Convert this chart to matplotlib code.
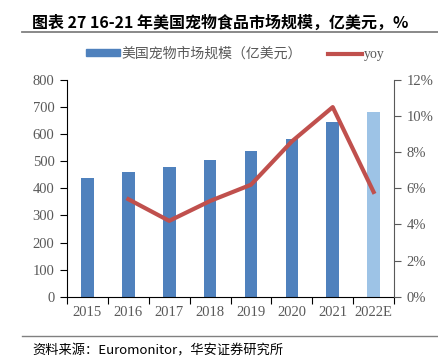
import matplotlib
matplotlib.use("Agg")
import matplotlib.pyplot as plt
from matplotlib.lines import Line2D
from matplotlib.patches import Patch

plt.rcParams['font.family'] = ['Liberation Serif', 'Noto Sans CJK SC', 'DejaVu Sans']

years = ['2015', '2016', '2017', '2018', '2019', '2020', '2021', '2022E']
market = [437, 459, 479, 505, 537, 581, 644, 681]
yoy = [None, 5.4, 4.2, 5.3, 6.2, 8.6, 10.5, 5.8]

blue = '#4F81BD'
light = '#9DC3E6'
red = '#C0504D'
grey = '#595959'

fig = plt.figure(figsize=(4.39, 3.58), dpi=100)
ax = fig.add_axes([0.1526, 0.1712, 0.745, 0.6053])
x = list(range(len(years)))
cols = [blue] * (len(years) - 1) + [light]
ax.bar(x, market, width=0.31, color=cols, zorder=2)
ax.set_ylim(0, 800)
ax.set_xlim(-0.5, len(years) - 0.5)
ax.set_yticks(range(0, 801, 100))
ax.set_xticks([i - 0.5 for i in range(len(years) + 1)])
ax.set_xticklabels([])
ax.set_xticks(x, minor=True)
ax.set_xticklabels(years, minor=True)
ax.tick_params(axis='x', which='minor', length=0, pad=7, labelsize=10.5, labelcolor=grey)
ax.tick_params(axis='x', which='major', length=5, direction='out', color='black')
ax.tick_params(axis='y', length=5, direction='out', labelsize=10.5, labelcolor=grey, pad=4)
for s in ['top', 'right']:
    ax.spines[s].set_visible(False)

ax2 = ax.twinx()
xs = [i for i, v in zip(x, yoy) if v is not None]
ys = [v for v in yoy if v is not None]
ax2.plot(xs, ys, color=red, lw=3, zorder=3)
ax2.set_ylim(0, 12)
ax2.set_yticks(range(0, 13, 2))
ax2.set_yticklabels([f'{t}%' for t in range(0, 13, 2)])
ax2.tick_params(axis='y', length=5, direction='out', labelsize=10.5, labelcolor=grey, color=grey, pad=4)
for s in ['top', 'left', 'bottom']:
    ax2.spines[s].set_visible(False)
ax2.spines['right'].set_color(grey)

handles = [Patch(color=blue), Line2D([0], [0], color=red, lw=3)]
fig.legend(handles, ['美国宠物市场规模（亿美元）', 'yoy'], loc='center left',
           bbox_to_anchor=(79 / 439, 1 - 54 / 358), borderpad=0,
           ncol=2, frameon=False, labelcolor=grey, handlelength=2.45, handleheight=0.4,
           columnspacing=1.9, handletextpad=0.1,
           prop={'family': ['Liberation Serif', 'Noto Sans CJK SC'], 'size': 10})

fig.text(32 / 439, 0.937, '图表 27 16-21 年美国宠物食品市场规模，亿美元，%', fontsize=11.5, fontweight='bold',
         family=['Noto Sans CJK SC'], va='center', ha='left')
fig.add_artist(Line2D([22 / 439, 1.0], [1 - 32 / 358, 1 - 32 / 358], color='#808080', lw=1.3))
fig.add_artist(Line2D([22 / 439, 1.0], [1 - 336 / 358, 1 - 336 / 358], color='#808080', lw=1))
fig.text(32 / 439, 1 - 351 / 358, '资料来源：Euromonitor，华安证券研究所', fontsize=9.5,
         family=['Noto Sans CJK SC'], va='center', ha='left')

fig.savefig('out.png', dpi=100)
